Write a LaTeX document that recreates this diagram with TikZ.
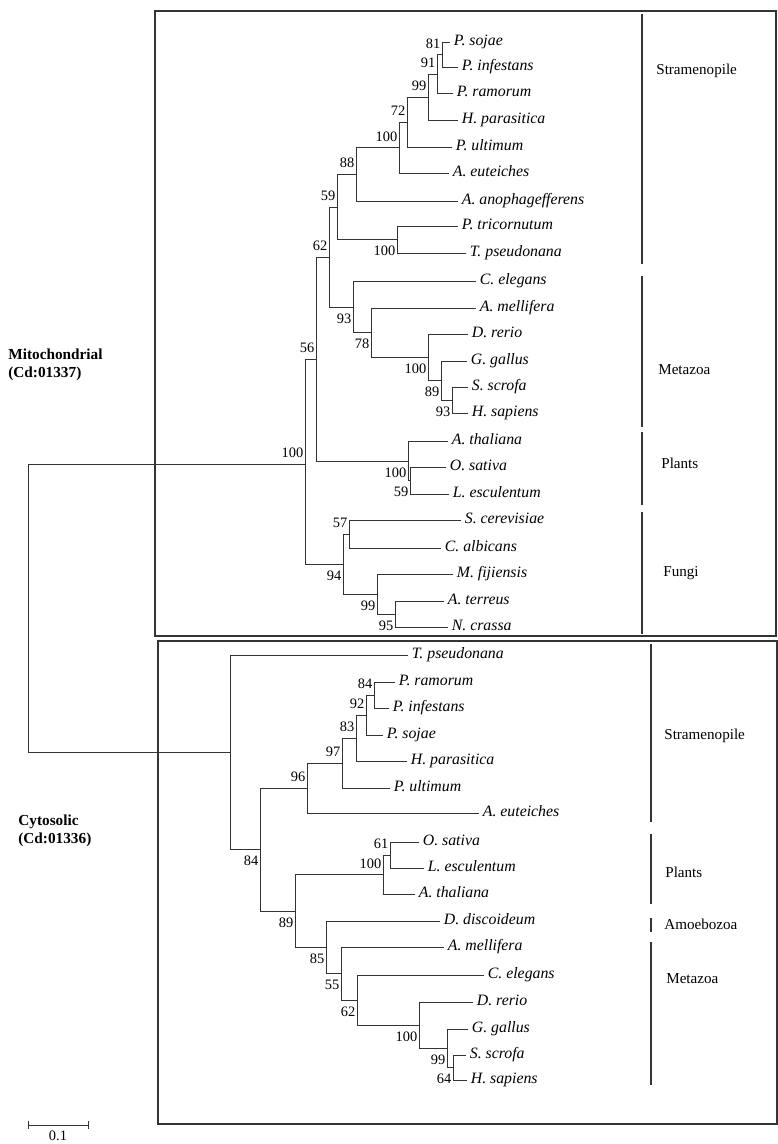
\documentclass[tikz,border=0pt]{standalone}
\usepackage{fontspec}
\setmainfont{Liberation Serif}
\usepackage{tikz}
\colorlet{treeline}{black!80}

\begin{document}
\begin{tikzpicture}[x=0.02cm,y=-0.02cm,
  br/.style={draw=treeline,line width=0.5pt},
  leaf/.style={anchor=west,inner sep=2pt,text height=6pt,text depth=2pt,font=\fontsize{9}{10}\selectfont\itshape},
  bsup/.style={anchor=south east,inner sep=0.8pt,yshift=2.6pt,text height=5.6pt,text depth=0pt,font=\fontsize{8.2}{9}\selectfont},
  bsdn/.style={anchor=north east,inner sep=0.8pt,yshift=-2.6pt,text height=5.6pt,text depth=0pt,font=\fontsize{8.2}{9}\selectfont},
  clade/.style={anchor=west,inner sep=0pt,font=\fontsize{8.6}{10}\selectfont},
  cladebar/.style={draw=treeline,line width=1.4pt},
  grp/.style={anchor=west,align=left,inner sep=0pt,font=\fontsize{8.7}{10.2}\selectfont\bfseries},
  frame/.style={draw=treeline,line width=0.6pt}]
  \useasboundingbox (0,0) rectangle (778,1144);

  % frames
  \draw[frame] (155,11) rectangle (776,636);
  \draw[frame] (158,641) rectangle (777,1124);

  % mitochondrial leaves
  \node[leaf] (m-psojae) at (450,42) {P. sojae};
  \node[leaf] (m-pinfestans) at (458,67) {P. infestans};
  \node[leaf] (m-pramorum) at (453,93) {P. ramorum};
  \node[leaf] (m-hparasitica) at (458,120) {H. parasitica};
  \node[leaf] (m-pultimum) at (452,147) {P. ultimum};
  \node[leaf] (m-aeuteiches) at (449,173) {A. euteiches};
  \node[leaf] (m-aanoph) at (458,201) {A. anophagefferens};
  \node[leaf] (m-ptricornutum) at (458,226) {P. tricornutum};
  \node[leaf] (m-tpseudonana) at (466,253) {T. pseudonana};
  \node[leaf] (m-celegans) at (476,281) {C. elegans};
  \node[leaf] (m-amellifera) at (476,308) {A. mellifera};
  \node[leaf] (m-drerio) at (468,334) {D. rerio};
  \node[leaf] (m-ggallus) at (467,361) {G. gallus};
  \node[leaf] (m-sscrofa) at (468,387) {S. scrofa};
  \node[leaf] (m-hsapiens) at (468,413) {H. sapiens};
  \node[leaf] (m-athaliana) at (448,441) {A. thaliana};
  \node[leaf] (m-osativa) at (446,467) {O. sativa};
  \node[leaf] (m-lesculentum) at (449,494) {L. esculentum};
  \node[leaf] (m-scerevisiae) at (461,520) {S. cerevisiae};
  \node[leaf] (m-calbicans) at (441,548) {C. albicans};
  \node[leaf] (m-mfijiensis) at (453,574) {M. fijiensis};
  \node[leaf] (m-aterreus) at (444,601) {A. terreus};
  \node[leaf] (m-ncrassa) at (448,627) {N. crassa};

  % mitochondrial inner nodes
  \coordinate (m-81) at (442,54.5);
  \coordinate (m-91) at (437,74);
  \coordinate (m-99) at (428,97);
  \coordinate (m-72) at (407,122);
  \coordinate (m-100a) at (399,147.5);
  \coordinate (m-88) at (356,174);
  \coordinate (m-100b) at (397,239.5);
  \coordinate (m-59) at (337,207);
  \coordinate (m-93s) at (452,400);
  \coordinate (m-89) at (441,380.5);
  \coordinate (m-100c) at (428,357);
  \coordinate (m-78) at (371,332.5);
  \coordinate (m-93) at (353,307);
  \coordinate (m-62) at (329,257);
  \coordinate (m-59p) at (410,480.5);
  \coordinate (m-100p) at (408,461);
  \coordinate (m-56) at (316,359);
  \coordinate (m-57) at (349,534);
  \coordinate (m-95) at (395,614);
  \coordinate (m-99f) at (377,594);
  \coordinate (m-94) at (343,564);
  \coordinate (m-100) at (305,464);
  \coordinate (root) at (28,608);

  % cytosolic leaves
  \node[leaf] (c-tpseudonana) at (408,655) {T. pseudonana};
  \node[leaf] (c-pramorum) at (395,682) {P. ramorum};
  \node[leaf] (c-pinfestans) at (389,708) {P. infestans};
  \node[leaf] (c-psojae) at (383,735) {P. sojae};
  \node[leaf] (c-hparasitica) at (407,761) {H. parasitica};
  \node[leaf] (c-pultimum) at (390,788) {P. ultimum};
  \node[leaf] (c-aeuteiches) at (479,813) {A. euteiches};
  \node[leaf] (c-osativa) at (419,842) {O. sativa};
  \node[leaf] (c-lesculentum) at (424,868) {L. esculentum};
  \node[leaf] (c-athaliana) at (415,894) {A. thaliana};
  \node[leaf] (c-ddiscoideum) at (440,921) {D. discoideum};
  \node[leaf] (c-amellifera) at (444,947) {A. mellifera};
  \node[leaf] (c-celegans) at (484,975) {C. elegans};
  \node[leaf] (c-drerio) at (473,1002) {D. rerio};
  \node[leaf] (c-ggallus) at (468,1029) {G. gallus};
  \node[leaf] (c-sscrofa) at (466,1055) {S. scrofa};
  \node[leaf] (c-hsapiens) at (467,1080) {H. sapiens};

  % cytosolic inner nodes
  \coordinate (c-84s) at (374,695);
  \coordinate (c-92) at (366,715);
  \coordinate (c-83) at (356,738);
  \coordinate (c-97) at (342,763);
  \coordinate (c-96) at (307,788);
  \coordinate (c-61) at (390,855);
  \coordinate (c-100p) at (383,874.5);
  \coordinate (c-64) at (453,1067.5);
  \coordinate (c-99) at (447,1048);
  \coordinate (c-100v) at (419,1025);
  \coordinate (c-62) at (357,1000);
  \coordinate (c-55) at (341,973.5);
  \coordinate (c-85) at (326,947);
  \coordinate (c-89) at (295,911);
  \coordinate (c-84) at (260,849.5);
  \coordinate (c-root) at (230,752);

  % branches
  \draw[br] (m-81) |- (m-psojae.west) (m-81) |- (m-pinfestans.west);
  \draw[br] (m-91) |- (m-81) (m-91) |- (m-pramorum.west);
  \draw[br] (m-99) |- (m-91) (m-99) |- (m-hparasitica.west);
  \draw[br] (m-72) |- (m-99) (m-72) |- (m-pultimum.west);
  \draw[br] (m-100a) |- (m-72) (m-100a) |- (m-aeuteiches.west);
  \draw[br] (m-88) |- (m-100a) (m-88) |- (m-aanoph.west);
  \draw[br] (m-100b) |- (m-ptricornutum.west) (m-100b) |- (m-tpseudonana.west);
  \draw[br] (m-59) |- (m-88) (m-59) |- (m-100b);
  \draw[br] (m-93s) |- (m-sscrofa.west) (m-93s) |- (m-hsapiens.west);
  \draw[br] (m-89) |- (m-ggallus.west) (m-89) |- (m-93s);
  \draw[br] (m-100c) |- (m-drerio.west) (m-100c) |- (m-89);
  \draw[br] (m-78) |- (m-amellifera.west) (m-78) |- (m-100c);
  \draw[br] (m-93) |- (m-celegans.west) (m-93) |- (m-78);
  \draw[br] (m-62) |- (m-59) (m-62) |- (m-93);
  \draw[br] (m-59p) |- (m-osativa.west) (m-59p) |- (m-lesculentum.west);
  \draw[br] (m-100p) |- (m-athaliana.west) (m-100p) |- (m-59p);
  \draw[br] (m-56) |- (m-62) (m-56) |- (m-100p);
  \draw[br] (m-57) |- (m-scerevisiae.west) (m-57) |- (m-calbicans.west);
  \draw[br] (m-95) |- (m-aterreus.west) (m-95) |- (m-ncrassa.west);
  \draw[br] (m-99f) |- (m-mfijiensis.west) (m-99f) |- (m-95);
  \draw[br] (m-94) |- (m-57) (m-94) |- (m-99f);
  \draw[br] (m-100) |- (m-56) (m-100) |- (m-94);
  \draw[br] (root) |- (m-100) (root) |- (c-root);
  \draw[br] (c-root) |- (c-tpseudonana.west) (c-root) |- (c-84);
  \draw[br] (c-84) |- (c-96) (c-84) |- (c-89);
  \draw[br] (c-96) |- (c-97) (c-96) |- (c-aeuteiches.west);
  \draw[br] (c-97) |- (c-83) (c-97) |- (c-pultimum.west);
  \draw[br] (c-83) |- (c-92) (c-83) |- (c-hparasitica.west);
  \draw[br] (c-92) |- (c-84s) (c-92) |- (c-psojae.west);
  \draw[br] (c-84s) |- (c-pramorum.west) (c-84s) |- (c-pinfestans.west);
  \draw[br] (c-89) |- (c-100p) (c-89) |- (c-85);
  \draw[br] (c-100p) |- (c-61) (c-100p) |- (c-athaliana.west);
  \draw[br] (c-61) |- (c-osativa.west) (c-61) |- (c-lesculentum.west);
  \draw[br] (c-85) |- (c-ddiscoideum.west) (c-85) |- (c-55);
  \draw[br] (c-55) |- (c-amellifera.west) (c-55) |- (c-62);
  \draw[br] (c-62) |- (c-celegans.west) (c-62) |- (c-100v);
  \draw[br] (c-100v) |- (c-drerio.west) (c-100v) |- (c-99);
  \draw[br] (c-99) |- (c-ggallus.west) (c-99) |- (c-64);
  \draw[br] (c-64) |- (c-sscrofa.west) (c-64) |- (c-hsapiens.west);

  % bootstrap values
  \node[bsup] (b-m-81) at (m-81) {81};
  \node[bsup] (b-m-91) at (m-91) {91};
  \node[bsup] (b-m-99) at (m-99) {99};
  \node[bsup] (b-m-72) at (m-72) {72};
  \node[bsup] (b-m-100a) at (m-100a) {100};
  \node[bsup] (b-m-88) at (m-88) {88};
  \node[bsdn] (b-m-100b) at (m-100b) {100};
  \node[bsup] (b-m-59) at (m-59) {59};
  \node[bsdn] (b-m-93s) at (m-93s) {93};
  \node[bsdn] (b-m-89) at (m-89) {89};
  \node[bsdn] (b-m-100c) at (m-100c) {100};
  \node[bsdn] (b-m-78) at (m-78) {78};
  \node[bsdn] (b-m-93) at (m-93) {93};
  \node[bsup] (b-m-62) at (m-62) {62};
  \node[bsdn] (b-m-59p) at (m-59p) {59};
  \node[bsdn] (b-m-100p) at (m-100p) {100};
  \node[bsup] (b-m-56) at (m-56) {56};
  \node[bsup] (b-m-57) at (m-57) {57};
  \node[bsdn] (b-m-95) at (m-95) {95};
  \node[bsdn] (b-m-99f) at (m-99f) {99};
  \node[bsdn] (b-m-94) at (m-94) {94};
  \node[bsup] (b-m-100) at (m-100) {100};
  \node[bsup] (b-c-84s) at (c-84s) {84};
  \node[bsup] (b-c-92) at (c-92) {92};
  \node[bsup] (b-c-83) at (c-83) {83};
  \node[bsup] (b-c-97) at (c-97) {97};
  \node[bsup] (b-c-96) at (c-96) {96};
  \node[bsup] (b-c-61) at (c-61) {61};
  \node[bsup] (b-c-100p) at (c-100p) {100};
  \node[bsdn] (b-c-64) at (c-64) {64};
  \node[bsdn] (b-c-99) at (c-99) {99};
  \node[bsdn] (b-c-100v) at (c-100v) {100};
  \node[bsdn] (b-c-62) at (c-62) {62};
  \node[bsdn] (b-c-55) at (c-55) {55};
  \node[bsdn] (b-c-85) at (c-85) {85};
  \node[bsdn] (b-c-89) at (c-89) {89};
  \node[bsdn] (b-c-84) at (c-84) {84};

  % clade bars
  \draw[cladebar] (642,14) -- (642,264);
  \draw[cladebar] (642,276) -- (642,427);
  \draw[cladebar] (642,432) -- (642,505);
  \draw[cladebar] (642,512) -- (642,634);
  \draw[cladebar] (651,644) -- (651,822);
  \draw[cladebar] (651,834) -- (651,904);
  \draw[cladebar] (651,918) -- (651,932);
  \draw[cladebar] (651,942) -- (651,1085);
  \node[clade] (k-m-stram) at (656,71) {Stramenopile};
  \node[clade] (k-m-meta) at (658,370) {Metazoa};
  \node[clade] (k-m-plant) at (661,463) {Plants};
  \node[clade] (k-m-fungi) at (663,573) {Fungi};
  \node[clade] (k-c-stram) at (664,736) {Stramenopile};
  \node[clade] (k-c-plant) at (665,872) {Plants};
  \node[clade] (k-c-amoeba) at (664,924) {Amoebozoa};
  \node[clade] (k-c-meta) at (666,979) {Metazoa};

  % groups
  \node[grp] (g-mito) at (8,365) {Mitochondrial\\(Cd:01337)};
  \node[grp] (g-cyto) at (18,831) {Cytosolic\\(Cd:01336)};

  % scale bar
  \coordinate (sb-l) at (28,1125);
  \coordinate (sb-r) at (88,1125);
  \draw[br] (sb-l) -- (sb-r);
  \draw[br] (sb-l) ++(0,-4) -- ++(0,8);
  \draw[br] (sb-r) ++(0,-4) -- ++(0,8);
  \node[font=\fontsize{8.2}{9}\selectfont,inner sep=0pt] (sb-lbl) at (58,1136) {0.1};
\end{tikzpicture}
\end{document}
